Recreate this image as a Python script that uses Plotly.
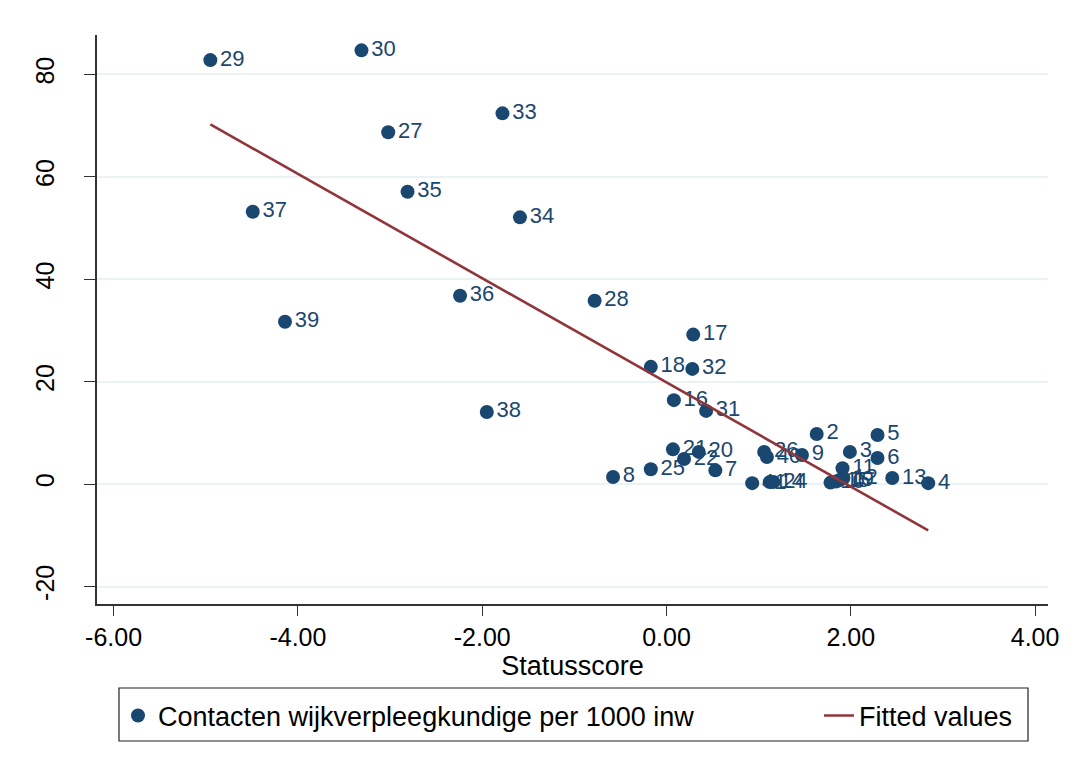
import numpy as np
import plotly.graph_objects as go

# Data
labels = ["29", "30", "33", "27", "35", "37", "34", "36", "28", "39",
          "17", "18", "32", "16", "31", "38", "2", "5", "21", "3",
          "20", "26", "40", "9", "6", "22", "7", "25", "8", "11",
          "13", "4", "41", "14", "24", "10", "15", "19", "12"]
statusscore = [-4.95, -3.31, -1.78, -3.02, -2.81, -4.49, -1.59, -2.24, -0.78, -4.14,
               0.29, -0.17, 0.28, 0.08, 0.43, -1.95, 1.63, 2.29, 0.07, 1.99,
               0.35, 1.06, 1.09, 1.47, 2.29, 0.19, 0.53, -0.17, -0.58, 1.91,
               2.45, 2.84, 0.93, 1.12, 1.16, 1.78, 1.84, 1.88, 1.92]
contacten = [82.8, 84.7, 72.4, 68.7, 57.1, 53.2, 52.1, 36.8, 35.8, 31.7,
             29.2, 22.9, 22.5, 16.4, 14.3, 14.1, 9.8, 9.6, 6.8, 6.3,
             6.3, 6.3, 5.3, 5.7, 5.1, 4.9, 2.7, 2.9, 1.4, 3.1,
             1.2, 0.2, 0.2, 0.4, 0.4, 0.3, 0.5, 0.8, 1.2]

x_ticks = [-6, -4, -2, 0, 2, 4]
x_ticktext = ["-6.00", "-4.00", "-2.00", "0.00", "2.00", "4.00"]
y_ticks = [-20, 0, 20, 40, 60, 80]
y_ticktext = ["-20", "0", "20", "40", "60", "80"]

NAVY = "#1a476f"
MAROON = "#90353b"
GRID = "#eaf2f3"
FONT = "Liberation Sans, Arial, sans-serif"

# Fitted values (OLS)
xs = np.array(statusscore)
ys = np.array(contacten)
b, a = np.polyfit(xs, ys, 1)
order = np.argsort(xs)
fit_x = xs[order]
fit_y = a + b * fit_x

fig = go.Figure()
fig.add_trace(go.Scatter(
    x=statusscore, y=contacten, mode="markers+text", text=labels,
    textposition="middle right",
    textfont=dict(family=FONT, size=22, color=NAVY),
    marker=dict(color=NAVY, size=14, line=dict(width=0)),
    name="Contacten wijkverpleegkundige per 1000 inw",
    legend="legend",
))
fig.add_trace(go.Scatter(
    x=fit_x, y=fit_y, mode="lines",
    line=dict(color=MAROON, width=2.6),
    name="Fitted values",
    legend="legend2",
))

legend_common = dict(
    orientation="h", yanchor="middle", xanchor="left",
    xref="container", yref="container",
    font=dict(family=FONT, size=27, color="black"),
    bgcolor="rgba(0,0,0,0)", borderwidth=0,
)

# page body has an 8px offset; margins compensate so the plot area sits at x 97-1048, y 35-604
fig.update_layout(
    width=1074, height=764,
    paper_bgcolor="white", plot_bgcolor="white",
    margin=dict(l=89, r=34, t=27, b=168, autoexpand=False),
    font=dict(family=FONT, color="black"),
    showlegend=True,
    legend=dict(x=110 / 1074, y=1 - 708 / 764, **legend_common),
    legend2=dict(x=811 / 1074, y=1 - 708 / 764, **legend_common),
    xaxis=dict(
        range=[-6.18, 4.14], tickvals=x_ticks, ticktext=x_ticktext,
        tickangle=0,
        showgrid=False, zeroline=False,
        showline=True, linecolor="#333333", linewidth=1.5,
        ticks="outside", ticklen=10, tickwidth=1.2, tickcolor="#333333",
        tickfont=dict(family=FONT, size=25, color="black"),
        title=dict(text="Statusscore", font=dict(family=FONT, size=27, color="black"), standoff=2),
    ),
    yaxis=dict(
        range=[-23.4, 87.7], tickvals=y_ticks, ticktext=y_ticktext,
        showgrid=True, gridcolor=GRID, gridwidth=2,
        zeroline=False,
        showline=True, linecolor="#333333", linewidth=1.5,
        ticks="outside", ticklen=11, tickwidth=1.2, tickcolor="#333333",
        tickangle=-90, ticklabelstandoff=20,
        tickfont=dict(family=FONT, size=25, color="black"),
    ),
    shapes=[
        dict(type="rect", xref="paper", yref="paper",
             x0=(119 - 97) / 951, x1=(1028 - 97) / 951,
             y0=(604 - 741) / 569, y1=(604 - 688) / 569,
             line=dict(color="#222222", width=1.2), fillcolor="rgba(0,0,0,0)"),
        dict(type="line", xref="paper", yref="paper",
             x0=(9 - 97) / 951, x1=(1074 - 97) / 951,
             y0=(604 - 7) / 569, y1=(604 - 7) / 569,
             line=dict(color=GRID, width=1.5)),
    ],
)

fig.write_html("out.html")
